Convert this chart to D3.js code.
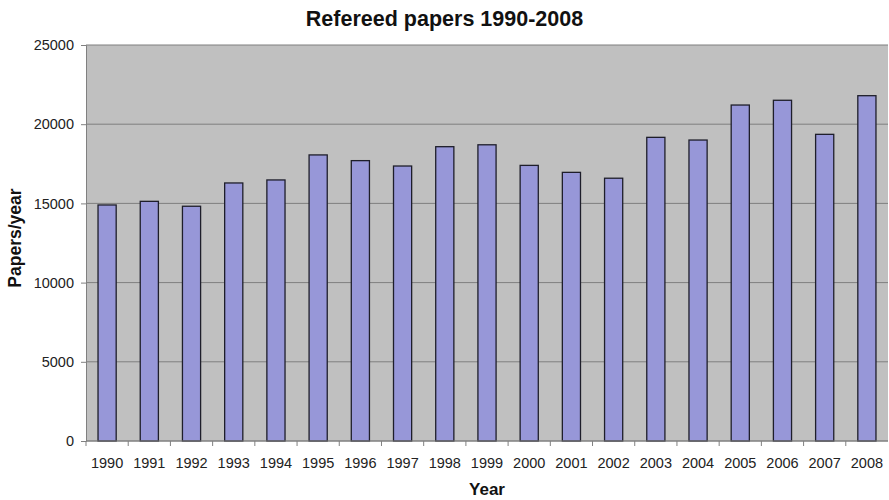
<!DOCTYPE html>
<html>
<head>
<meta charset="utf-8">
<script src="https://cdn.jsdelivr.net/npm/d3@7"></script>
<style>
  body { margin: 0; background: #fff; }
  svg { display: block; font-family: "Liberation Sans", Arial, sans-serif; }
</style>
</head>
<body>
<svg id="chart" width="889" height="500"></svg>
<script>
// Refereed papers per year
const years = ["1990","1991","1992","1993","1994","1995","1996","1997","1998","1999",
               "2000","2001","2002","2003","2004","2005","2006","2007","2008"];
const papers = [14900, 15130, 14820, 16290, 16480, 18060, 17700, 17360, 18580, 18700,
                17400, 16960, 16590, 19170, 19000, 21210, 21510, 19360, 21800];
const yTicks = [0, 5000, 10000, 15000, 20000, 25000];

const svg = d3.select("#chart");
const margin = { left: 86, right: 1, top: 45, bottom: 59 };
const W = 889, H = 500;
const iw = W - margin.left - margin.right;
const ih = H - margin.top - margin.bottom;

const x = d3.scaleBand().domain(years).range([margin.left, margin.left + iw]).paddingInner(0.57).paddingOuter(0.285);
const xTickScale = d3.scaleBand().domain(years).range([margin.left, margin.left + iw]);
const y = d3.scaleLinear().domain([0, 25000]).range([margin.top + ih, margin.top]);

// plot area background
svg.append("rect")
  .attr("x", margin.left).attr("y", margin.top)
  .attr("width", iw).attr("height", ih)
  .attr("fill", "#c0c0c0");

// horizontal gridlines
svg.append("g").selectAll("line").data(yTicks).join("line")
  .attr("x1", margin.left).attr("x2", margin.left + iw)
  .attr("y1", d => y(d)).attr("y2", d => y(d))
  .attr("stroke", "#7f7f7f").attr("stroke-width", 1);

// left axis
const yAxis = svg.append("g")
  .attr("transform", `translate(${margin.left},0)`)
  .call(d3.axisLeft(y).tickValues(yTicks).tickSize(5).tickPadding(7).tickFormat(d3.format("d")));
yAxis.select(".domain").attr("stroke", "#808080");
yAxis.selectAll(".tick line").attr("stroke", "#808080");
yAxis.selectAll("text").attr("font-size", 14.5).attr("fill", "#222");

// bars
svg.append("g").selectAll("rect").data(papers).join("rect")
  .attr("x", (d, i) => x(years[i]))
  .attr("y", d => y(d))
  .attr("width", x.bandwidth())
  .attr("height", d => y(0) - y(d))
  .attr("fill", "#9797d8")
  .attr("stroke", "#1e1e2a")
  .attr("stroke-width", 1.3);

// bottom axis: ticks between categories
const xb = svg.append("g").attr("transform", `translate(0,${y(0)})`);
xb.append("line")
  .attr("x1", margin.left).attr("x2", margin.left + iw)
  .attr("stroke", "#808080");
xb.selectAll("line.tk").data(years).join("line").attr("class", "tk")
  .attr("x1", d => xTickScale(d)).attr("x2", d => xTickScale(d))
  .attr("y1", 0).attr("y2", 5).attr("stroke", "#808080");
xb.selectAll("text").data(years).join("text")
  .attr("x", d => xTickScale(d) + xTickScale.bandwidth() / 2)
  .attr("y", 27)
  .attr("text-anchor", "middle")
  .attr("font-size", 14.5).attr("fill", "#222")
  .text(d => d);

// title, centred on the whole chart
svg.append("text")
  .attr("x", W / 2).attr("y", 26)
  .attr("text-anchor", "middle")
  .attr("font-size", 21.5).attr("font-weight", "bold").attr("fill", "#111")
  .text("Refereed papers 1990-2008");

// axis titles
svg.append("text")
  .attr("x", margin.left + iw / 2).attr("y", 495)
  .attr("text-anchor", "middle")
  .attr("font-size", 17).attr("font-weight", "bold").attr("fill", "#111")
  .text("Year");

svg.append("text")
  .attr("transform", `translate(21,${margin.top + ih / 2 - 5}) rotate(-90)`)
  .attr("text-anchor", "middle")
  .attr("font-size", 17.5).attr("font-weight", "bold").attr("fill", "#111")
  .text("Papers/year");
</script>
</body>
</html>
